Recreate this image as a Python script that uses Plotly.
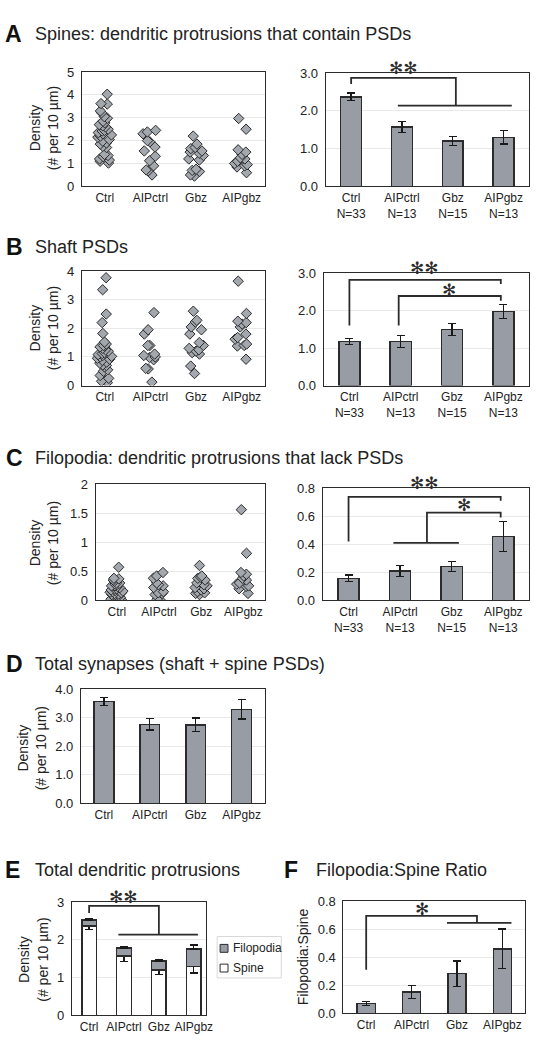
import plotly.graph_objects as go

W, H = 540, 1050
groups = ["Ctrl", "AIPctrl", "Gbz", "AIPgbz"]
n_per_group = ["N=33", "N=13", "N=15", "N=13"]

# ---- A: spine density per dendrite (# per 10 um)
spine_ctrl = [4.03, 3.62, 3.6, 3.3, 3.22, 3.05, 2.98, 2.85, 2.78, 2.7, 2.65, 2.6, 2.5,
              2.45, 2.42, 2.35, 2.3, 2.25, 2.2, 2.15, 2.05, 1.98, 1.9, 1.85, 1.75, 1.7,
              1.4, 1.35, 1.3, 1.2, 1.15, 1.1, 1.02]
spine_aipctrl = [2.45, 2.38, 2.3, 2.0, 1.95, 1.72, 1.55, 1.32, 1.12, 0.9, 0.72, 0.68, 0.5]
spine_gbz = [2.2, 1.85, 1.7, 1.65, 1.55, 1.5, 1.45, 1.35, 1.2, 1.15, 0.75, 0.7, 0.65, 0.5, 0.45]
spine_aipgbz = [2.97, 2.5, 1.6, 1.5, 1.4, 1.25, 1.2, 1.1, 1.0, 0.95, 0.9, 0.85, 0.6]

# ---- B: shaft PSD density per dendrite
shaft_ctrl = [3.77, 3.35, 2.5, 2.2, 1.82, 1.52, 1.45, 1.4, 1.38, 1.35, 1.3, 1.25, 1.2,
              1.15, 1.12, 1.08, 1.02, 1.0, 0.95, 0.92, 0.88, 0.82, 0.78, 0.72, 0.7, 0.65,
              0.55, 0.5, 0.35, 0.25, 0.15, 0.1, 1.05]
shaft_aipctrl = [2.55, 1.95, 1.8, 1.4, 1.4, 1.1, 1.05, 1.0, 0.98, 0.9, 0.6, 0.58, 0.12]
shaft_gbz = [2.6, 2.28, 2.22, 2.05, 1.95, 1.8, 1.5, 1.4, 1.25, 1.2, 1.15, 1.1, 0.68, 0.42, 1.3]
shaft_aipgbz = [3.65, 2.52, 2.25, 2.2, 2.15, 2.05, 1.8, 1.68, 1.62, 1.45, 1.4, 1.38, 0.92]

# ---- C: filopodia density per dendrite
filo_ctrl = [0.57, 0.38, 0.37, 0.35, 0.33, 0.3, 0.28, 0.27, 0.25, 0.24, 0.22, 0.2, 0.2,
             0.18, 0.17, 0.15, 0.14, 0.13, 0.12, 0.11, 0.1, 0.09, 0.08, 0.06, 0.05, 0.04,
             0.02, 0.0, 0.0, 0.0, 0.3, 0.25, 0.16]
filo_aipctrl = [0.48, 0.42, 0.38, 0.3, 0.27, 0.25, 0.22, 0.15, 0.13, 0.12, 0.1, 0.02, 0.0]
filo_gbz = [0.6, 0.42, 0.4, 0.38, 0.35, 0.3, 0.27, 0.25, 0.22, 0.2, 0.15, 0.13, 0.12, 0.1, 0.18]
filo_aipgbz = [1.56, 0.81, 0.48, 0.45, 0.42, 0.38, 0.35, 0.3, 0.25, 0.24, 0.2, 0.12, 0.28]

# ---- group means +/- SEM
spine_mean = [2.37, 1.57, 1.20, 1.30]
spine_sem = [0.10, 0.14, 0.12, 0.18]
shaft_mean = [1.17, 1.17, 1.50, 1.98]
shaft_sem = [0.08, 0.16, 0.16, 0.19]
filo_mean = [0.157, 0.21, 0.24, 0.455]
filo_sem = [0.023, 0.04, 0.036, 0.105]
syn_mean = [3.57, 2.77, 2.75, 3.29]
syn_sem = [0.14, 0.20, 0.24, 0.34]
ratio_mean = [0.07, 0.153, 0.284, 0.46]
ratio_sem = [0.013, 0.047, 0.09, 0.14]
legend_names = ["Filopodia", "Spine"]

# ---- significance brackets: polylines in (group index, value)
brackets = {
    2: [[(0, 2.71), (0, 2.87), (2.06, 2.87), (2.06, 2.14)], [(0.92, 2.14), (3.16, 2.14)]],
    4: [[(0, 1.6), (0, 2.82), (2.95, 2.82), (2.95, 2.71)],
        [(0.96, 1.6), (0.96, 2.39), (2.95, 2.39), (2.95, 2.26)]],
    6: [[(0, 0.42), (0, 0.737), (2.95, 0.737), (2.95, 0.71)],
        [(1.52, 0.41), (1.52, 0.625), (2.95, 0.625), (2.95, 0.59)],
        [(0.87, 0.41), (2.14, 0.41)]],
    8: [[(0, 2.71), (0, 2.9), (2.0, 2.9), (2.0, 2.14)], [(0.84, 2.14), (3.12, 2.14)]],
    9: [[(0, 0.31), (0, 0.695), (2.44, 0.695), (2.44, 0.645)], [(1.78, 0.645), (3.2, 0.645)]],
}
stars = [(2, 1.03, 3.13, "✻✻"), (4, 1.47, 3.13, "✻✻"), (4, 1.95, 2.55, "✻"),
         (6, 1.47, 0.835, "✻✻"), (6, 2.24, 0.68, "✻"), (8, 0.98, 3.13, "✻✻"),
         (9, 1.22, 0.745, "✻")]

FONT = "Liberation Sans, Arial, Helvetica, sans-serif"
INK = "#2b2b2b"
BAR_FILL = "#979ca5"
PT_FILL = "#a3a7ae"
GRID = "#e9e9e9"

# plot areas in px: left, right, top, bottom
panels = {
    1: (83, 268, 66, 182), 2: (330, 536, 67, 182),
    3: (83, 268, 268, 384), 4: (328, 536, 270, 384),
    5: (97, 268, 484, 602), 6: (327, 536, 488, 602),
    7: (82, 268, 692, 808),
    8: (73, 209, 908, 1023), 9: (348, 532, 907, 1021),
}
yspec = {1: ([0, 5], 1, ""), 2: ([0, 3], 1, ".1f"), 3: ([0, 4], 1, ""), 4: ([0, 3], 1, ".1f"),
         5: ([0, 2], 0.5, ""), 6: ([0, 0.8], 0.2, ".1f"), 7: ([0, 4], 1, ".1f"),
         8: ([0, 3], 1, ""), 9: ([0, 0.8], 0.2, ".1f")}

xpos = list(range(len(groups)))
fig = go.Figure()


def ax(i):
    return ("x" if i == 1 else f"x{i}"), ("y" if i == 1 else f"y{i}")


def add_scatter(i, series):
    xs, ys = [], []
    for k, vals in enumerate(series):
        xs += [xpos[k]] * len(vals)
        ys += vals
    xa, ya = ax(i)
    fig.add_trace(go.Box(
        x=xs, y=ys, xaxis=xa, yaxis=ya, boxpoints="all", jitter=0.7, pointpos=0,
        fillcolor="rgba(0,0,0,0)", line=dict(width=0, color="rgba(0,0,0,0)"),
        whiskerwidth=0, showlegend=False, hoveron="points",
        marker=dict(symbol="diamond", size=8, color=PT_FILL,
                    line=dict(width=1, color=INK))))


def add_bar(i, mean, sem, width=0.41):
    xa, ya = ax(i)
    fig.add_trace(go.Bar(
        x=xpos, y=mean, xaxis=xa, yaxis=ya, width=width, showlegend=False,
        marker=dict(color=BAR_FILL, line=dict(color=INK, width=1.5)),
        error_y=dict(type="data", array=sem, color="#1a1a1a", thickness=1.3, width=4)))


add_scatter(1, [spine_ctrl, spine_aipctrl, spine_gbz, spine_aipgbz])
add_bar(2, spine_mean, spine_sem)
add_scatter(3, [shaft_ctrl, shaft_aipctrl, shaft_gbz, shaft_aipgbz])
add_bar(4, shaft_mean, shaft_sem)
add_scatter(5, [filo_ctrl, filo_aipctrl, filo_gbz, filo_aipgbz])
add_bar(6, filo_mean, filo_sem)
add_bar(7, syn_mean, syn_sem, width=0.43)

# E: stacked
zeros = [0] * len(groups)
fig.add_trace(go.Bar(
    x=xpos, y=spine_mean, xaxis="x8", yaxis="y8", width=0.42, name="Spine", showlegend=False,
    marker=dict(color="white", line=dict(color=INK, width=1.5)),
    error_y=dict(type="data", symmetric=False, array=zeros, arrayminus=spine_sem,
                 color="#1a1a1a", thickness=1.3, width=4)))
fig.add_trace(go.Bar(
    x=xpos, y=filo_mean, xaxis="x8", yaxis="y8", width=0.42, name="Filopodia",
    showlegend=False,
    marker=dict(color=BAR_FILL, line=dict(color=INK, width=1.5)),
    error_y=dict(type="data", symmetric=False, array=filo_sem, arrayminus=zeros,
                 color="#1a1a1a", thickness=1.3, width=4)))

add_bar(9, ratio_mean, ratio_sem, width=0.4)

layout = dict(
    width=W, height=H, autosize=False, margin=dict(l=0, r=0, t=0, b=0),
    paper_bgcolor="white", plot_bgcolor="white", barmode="stack", showlegend=False,
    font=dict(family=FONT, color="#222", size=12),
)

for i, (l, r, t, b) in panels.items():
    xk = "xaxis" if i == 1 else f"xaxis{i}"
    yk = "yaxis" if i == 1 else f"yaxis{i}"
    xa, ya = ax(i)
    rng, dt, fmt = yspec[i]
    if i in (2, 4, 6):
        ttext = [f"{g}<br>{n}" for g, n in zip(groups, n_per_group)]
    else:
        ttext = groups
    xr = [-0.49, 3.36] if i == 8 else [-0.5, 3.5]
    layout[xk] = dict(domain=[l / W, r / W], anchor=ya, range=xr, tickmode="array",
                      tickvals=xpos, ticktext=ttext, showline=True, mirror=True,
                      linecolor=INK, linewidth=1.2, showgrid=False, zeroline=False,
                      ticks="", tickfont=dict(size=12, color="#222"), fixedrange=True)
    layout[yk] = dict(domain=[1 - b / H, 1 - t / H], anchor=xa, range=rng, dtick=dt,
                      tick0=0, tickformat=fmt, showline=True, mirror=True, linecolor=INK,
                      linewidth=1.2, showgrid=True, gridcolor=GRID, zeroline=False,
                      ticks="", ticklabelstandoff=4,
                      tickfont=dict(size=13, color="#222"), fixedrange=True)

shapes = []
for i, lines in brackets.items():
    xa, ya = ax(i)
    for pts in lines:
        path = "M " + " L ".join(f"{x},{y}" for x, y in pts)
        shapes.append(dict(type="path", path=path, xref=xa, yref=ya,
                           line=dict(color=INK, width=1.8)))

# manual legend for panel E
shapes.append(dict(type="rect", xref="paper", yref="paper", x0=220 / W, x1=285 / W,
                   y0=1 - 985 / H, y1=1 - 943 / H, line=dict(color="#d8d8d8", width=1),
                   fillcolor="white"))
leg_fill = [BAR_FILL, "white"]
leg_y = [955, 975]
for name, fc, yy in zip(legend_names, leg_fill, leg_y):
    shapes.append(dict(type="rect", xref="paper", yref="paper", x0=223 / W, x1=231 / W,
                       y0=1 - (yy + 4) / H, y1=1 - (yy - 4) / H,
                       line=dict(color=INK, width=1), fillcolor=fc))
layout["shapes"] = shapes

ann = []
for name, yy in zip(legend_names, leg_y):
    ann.append(dict(x=234 / W, y=1 - yy / H, xref="paper", yref="paper", text=name,
                    showarrow=False, xanchor="left", yanchor="middle",
                    font=dict(size=12, family=FONT, color="#222")))

for i, x, y, s in stars:
    xa, ya = ax(i)
    rng = yspec[i][0]
    ann.append(dict(x=x, y=(y - rng[0]) / (rng[1] - rng[0]), xref=xa, yref=f"{ya} domain",
                    text=s, showarrow=False,
                    font=dict(size=17, family="DejaVu Sans", color=INK),
                    xanchor="center", yanchor="middle"))

titles = [("A", 3, 27, "Spines: dendritic protrusions that contain PSDs"),
          ("B", 4, 243, "Shaft PSDs"),
          ("C", 4, 458, "Filopodia: dendritic protrusions that lack PSDs"),
          ("D", 4, 667, "Total synapses (shaft + spine PSDs)"),
          ("E", 3, 876, "Total dendritic protrusions")]
for letter, lx, y, txt in titles:
    ann.append(dict(x=lx / W, y=1 - y / H, xref="paper", yref="paper", text=f"<b>{letter}</b>",
                    showarrow=False, xanchor="left", yanchor="middle",
                    font=dict(size=23, family=FONT, color="#111")))
    ann.append(dict(x=33 / W, y=1 - y / H, xref="paper", yref="paper", text=txt,
                    showarrow=False, xanchor="left", yanchor="middle",
                    font=dict(size=18, family=FONT, color="#222")))
ann.append(dict(x=286 / W, y=1 - 876 / H, xref="paper", yref="paper", text="<b>F</b>",
                showarrow=False, xanchor="left", yanchor="middle",
                font=dict(size=23, family=FONT, color="#111")))
ann.append(dict(x=318 / W, y=1 - 876 / H, xref="paper", yref="paper",
                text="Filopodia:Spine Ratio", showarrow=False, xanchor="left",
                yanchor="middle", font=dict(size=18, family=FONT, color="#222")))

ytitles = [(44.5, 123, "Density<br>(# per 10 µm)"), (44.5, 326, "Density<br>(# per 10 µm)"),
           (44.5, 544, "Density<br>(# per 10 µm)"), (32.5, 752, "Density<br>(# per 10 µm)"),
           (34, 967, "Density<br>(# per 10 µm)"), (307, 964, "Filopodia:Spine")]
for x, y, txt in ytitles:
    ann.append(dict(x=x / W, y=1 - y / H, xref="paper", yref="paper", text=txt,
                    textangle=-90, showarrow=False, xanchor="center", yanchor="middle",
                    font=dict(size=14, family=FONT, color="#222")))
layout["annotations"] = ann

fig.update_layout(**layout)
fig.write_html(
    "out.html",
    config={"displayModeBar": False, "responsive": False},
    post_script=("document.body.style.margin='0';"
                 "document.body.style.overflow='hidden';"
                 "document.documentElement.style.overflow='hidden';"),
)
